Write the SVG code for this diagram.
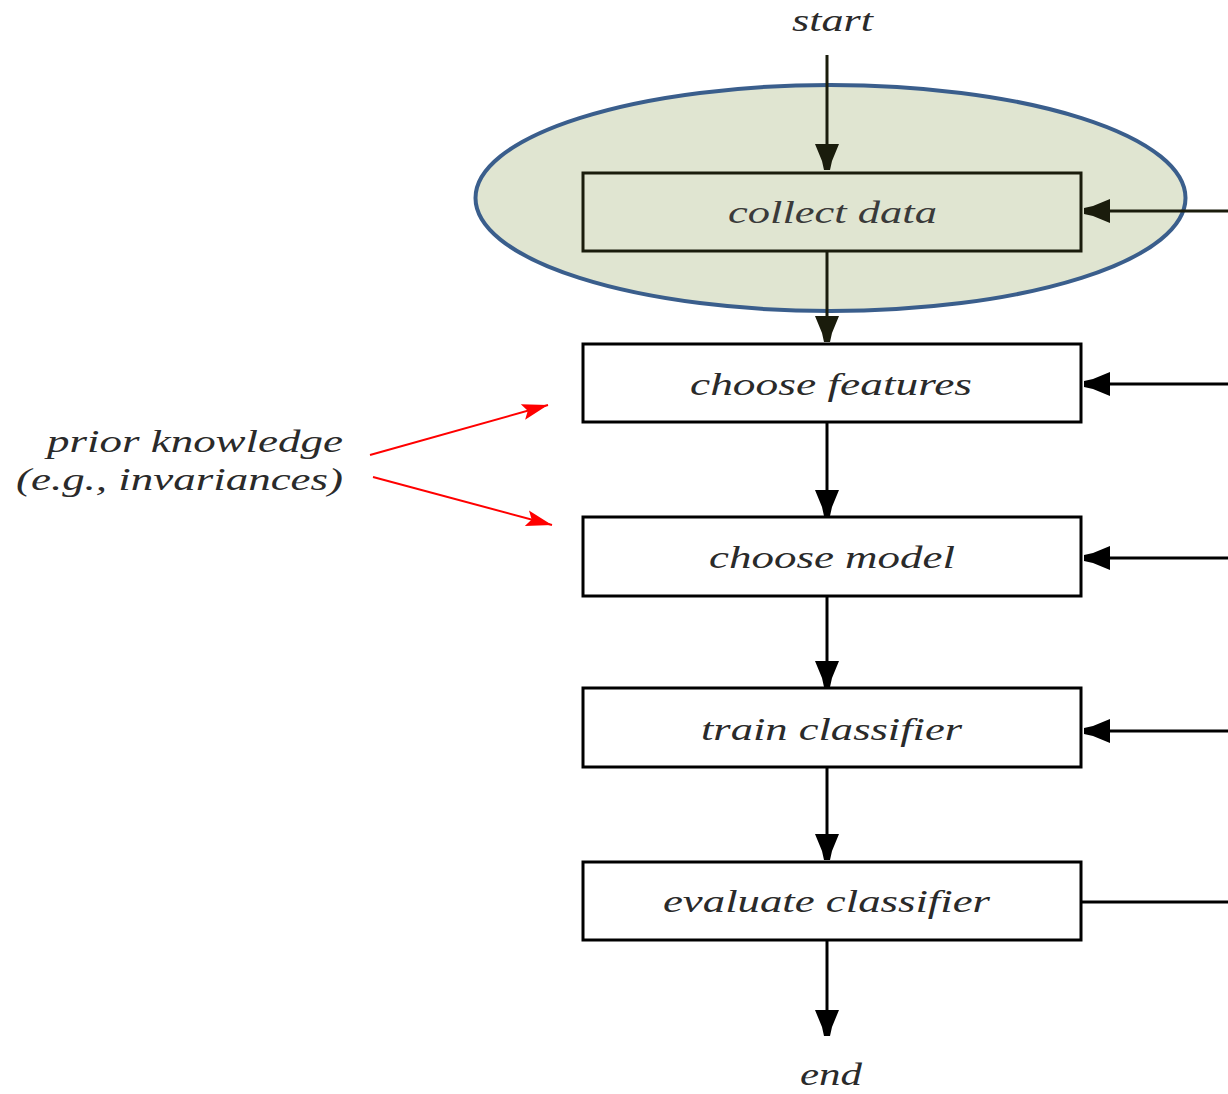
<svg xmlns="http://www.w3.org/2000/svg" width="1228" height="1094" viewBox="0 0 1228 1094">
<style>
.lbl{font-family:"Liberation Serif","Times New Roman",serif;font-style:italic;font-size:31px;fill:#2a2a2a;}
.box{fill:#fff;stroke:#000;stroke-width:3;}
.ln{stroke:#000;stroke-width:3;fill:none;}
.red{stroke:#ff0000;stroke-width:2;fill:none;}
</style>
<defs>
<marker id="ah" markerUnits="userSpaceOnUse" markerWidth="30" markerHeight="28" viewBox="-2 -14 30 28" refX="26" refY="0" orient="auto">
<path d="M0,-12 L0,12 L17,5 L26,3 L26,-3 L17,-5 Z" fill="#000"/>
</marker>
<marker id="ahd" markerUnits="userSpaceOnUse" markerWidth="30" markerHeight="28" viewBox="-2 -14 30 28" refX="26" refY="0" orient="auto">
<path d="M0,-12 L0,12 L17,5 L26,3 L26,-3 L17,-5 Z" fill="#1a1c0c"/>
</marker>
<marker id="ahr" markerUnits="userSpaceOnUse" markerWidth="30" markerHeight="20" viewBox="-2 -10 30 20" refX="26" refY="0" orient="auto">
<path d="M0,-8 L26,0 L0,8 L5,0 Z" fill="#ff0000"/>
</marker>
</defs>
<g id="scope">
<ellipse cx="830.5" cy="198" rx="355" ry="113" fill="#e0e5d1" stroke="#3a5e8c" stroke-width="4"/>
</g>
<g id="connectors">
<line class="ln" x1="827" y1="55" x2="827" y2="170" style="stroke:#1a1c0c" marker-end="url(#ahd)"/>
<line class="ln" x1="827" y1="251" x2="827" y2="342" style="stroke:#1a1c0c" marker-end="url(#ahd)"/>
<line class="ln" x1="827" y1="422" x2="827" y2="516" marker-end="url(#ah)"/>
<line class="ln" x1="827" y1="596" x2="827" y2="687" marker-end="url(#ah)"/>
<line class="ln" x1="827" y1="767" x2="827" y2="860" marker-end="url(#ah)"/>
<line class="ln" x1="827" y1="940" x2="827" y2="1036" marker-end="url(#ah)"/>
<line class="ln" x1="1228" y1="211" x2="1084" y2="211" style="stroke:#1a1c0c" marker-end="url(#ahd)"/>
<line class="ln" x1="1228" y1="384" x2="1084" y2="384" marker-end="url(#ah)"/>
<line class="ln" x1="1228" y1="558" x2="1084" y2="558" marker-end="url(#ah)"/>
<line class="ln" x1="1228" y1="731" x2="1084" y2="731" marker-end="url(#ah)"/>
<line class="ln" x1="1228" y1="902" x2="1082" y2="902"/>
<line class="red" x1="370" y1="455" x2="548" y2="405" marker-end="url(#ahr)"/>
<line class="red" x1="373" y1="477" x2="552" y2="525" marker-end="url(#ahr)"/>
</g>
<g id="start"><text class="lbl" x="792" y="31" textLength="81" lengthAdjust="spacingAndGlyphs">start</text></g>
<g id="collect-data">
<rect class="box" x="583" y="173" width="498" height="78" style="fill:none;stroke:#1a1c0c"/>
<text class="lbl" x="728" y="223" textLength="209" lengthAdjust="spacingAndGlyphs" style="fill:#3a3a3a">collect data</text>
</g>
<g id="choose-features">
<rect class="box" x="583" y="344" width="498" height="78"/>
<text class="lbl" x="690" y="395" textLength="282" lengthAdjust="spacingAndGlyphs">choose features</text>
</g>
<g id="choose-model">
<rect class="box" x="583" y="517" width="498" height="79"/>
<text class="lbl" x="709" y="568" textLength="246" lengthAdjust="spacingAndGlyphs">choose model</text>
</g>
<g id="train-classifier">
<rect class="box" x="583" y="688" width="498" height="79"/>
<text class="lbl" x="701" y="740" textLength="261" lengthAdjust="spacingAndGlyphs">train classifier</text>
</g>
<g id="evaluate-classifier">
<rect class="box" x="583" y="862" width="498" height="78"/>
<text class="lbl" x="663" y="912" textLength="327" lengthAdjust="spacingAndGlyphs">evaluate classifier</text>
</g>
<g id="end"><text class="lbl" x="800" y="1085" textLength="62" lengthAdjust="spacingAndGlyphs">end</text></g>
<g id="prior-knowledge">
<text class="lbl" x="47" y="452" textLength="296" lengthAdjust="spacingAndGlyphs">prior knowledge</text>
<text class="lbl" x="16" y="490" textLength="327" lengthAdjust="spacingAndGlyphs">(e.g., invariances)</text>
</g>
</svg>
